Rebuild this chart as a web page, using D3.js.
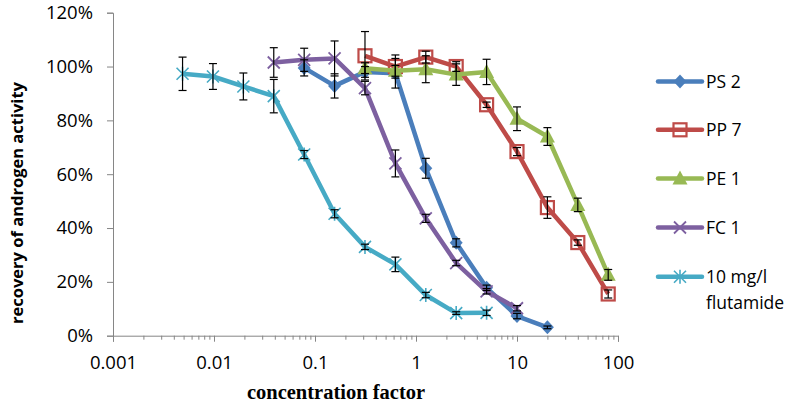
<!DOCTYPE html>
<html><head><meta charset="utf-8">
<script src="https://cdn.jsdelivr.net/npm/d3@7"></script>
<style>body{margin:0;background:#fff}svg{display:block}</style>
</head><body><svg id="c" width="792" height="405"></svg>
<script>
// concentration factors (dilution series)
const concFlut = [0.0048828, 0.0097656, 0.0195313, 0.0390625, 0.078125, 0.15625, 0.3125, 0.625, 1.25, 2.5, 5];
const concFC1  = [0.0390625, 0.078125, 0.15625, 0.3125, 0.625, 1.25, 2.5, 5, 10];
const concPS2  = [0.078125, 0.15625, 0.3125, 0.625, 1.25, 2.5, 5, 10, 20];
const concPP7  = [0.3125, 0.625, 1.25, 2.5, 5, 10, 20, 40, 80];
const concPE1  = [0.3125, 0.625, 1.25, 2.5, 5, 10, 20, 40, 80];

// recovery (%) and error (±%)
const valPS2  = [99.5, 92.8, 98.0, 97.5, 62.2, 34.5, 17.8, 7.3, 3.1];
const errPS2  = [3, 4.5, 2, 5.5, 3.7, 1.5, 1, 1, 0.5];
const valPP7  = [104.0, 100.0, 103.5, 100.0, 85.8, 68.4, 47.6, 34.6, 15.5];
const errPP7  = [9, 4.3, 2.2, 1.8, 1, 1.5, 4, 1, 1.5];
const valPE1  = [99.4, 98.4, 99.0, 97.0, 98.0, 80.6, 74.0, 48.6, 22.6];
const errPE1  = [2, 2, 5, 4, 4.7, 4.4, 3.3, 2.5, 2];
const valFC1  = [101.5, 102.5, 103.0, 92.0, 64.0, 43.6, 27.0, 16.5, 10.2];
const errFC1  = [5.5, 4.3, 6.5, 2.5, 5, 1.5, 1, 1, 1];
const valFlut = [97.3, 96.3, 92.6, 89.0, 67.3, 45.3, 33.0, 26.5, 15.1, 8.4, 8.5];
const errFlut = [6.2, 4.8, 5, 6.2, 1.5, 1.5, 1, 2.7, 1, 0.5, 1];

const seriesNames = ["PS 2", "PP 7", "PE 1", "FC 1", "10 mg/l flutamide"];
const xTicks = [0.001, 0.01, 0.1, 1, 10, 100];
const yTicks = [0, 20, 40, 60, 80, 100, 120];

const series = [
  {name: seriesNames[0], x: concPS2, y: valPS2, e: errPS2, color: "#4A7EBB", marker: "diamond"},
  {name: seriesNames[1], x: concPP7, y: valPP7, e: errPP7, color: "#BE4B48", marker: "square"},
  {name: seriesNames[2], x: concPE1, y: valPE1, e: errPE1, color: "#98B954", marker: "triangle"},
  {name: seriesNames[3], x: concFC1, y: valFC1, e: errFC1, color: "#7D60A0", marker: "x"},
  {name: seriesNames[4], x: concFlut, y: valFlut, e: errFlut, color: "#46AAC5", marker: "star"}
];

const svg = d3.select("#c");
const L = 113, R = 618, T = 12.7, B = 335.7;
const x = d3.scaleLog().domain([0.001, 100]).range([L, R]);
const y = d3.scaleLinear().domain([0, 120]).range([B, T]);
const axisColor = "#868686";
const font = "'Open Sans', 'Noto Sans', sans-serif";

// y axis
const gy = svg.append("g").attr("transform", `translate(${L},0)`)
  .call(d3.axisLeft(y).tickValues(yTicks).tickSize(6).tickFormat(d => d + "%"));
gy.select(".domain").attr("stroke", axisColor);
gy.selectAll(".tick line").attr("stroke", axisColor);
gy.selectAll(".tick text").attr("font-family", font).attr("font-size", 18.5).attr("fill", "#000").attr("x", -20);

// x axis
const minor = [];
for (let p = -3; p < 2; p++) for (let k = 2; k <= 9; k++) minor.push(k * Math.pow(10, p));
const gxm = svg.append("g").attr("transform", `translate(0,${B})`)
  .call(d3.axisBottom(x).tickValues(minor).tickSize(4).tickFormat(""));
gxm.select(".domain").remove();
gxm.selectAll(".tick line").attr("stroke", axisColor);
const gx = svg.append("g").attr("transform", `translate(0,${B})`)
  .call(d3.axisBottom(x).tickValues(xTicks).tickSize(6).tickFormat(d => String(d)));
gx.select(".domain").attr("stroke", axisColor);
gx.selectAll(".tick line").attr("stroke", axisColor);
gx.selectAll(".tick text").attr("font-family", font).attr("font-size", 18.5).attr("fill", "#000").attr("y", 20);

// axis titles
svg.append("text").attr("transform", "translate(23,203) rotate(-90)")
  .attr("text-anchor", "middle").attr("font-family", font).attr("font-weight", "bold")
  .attr("font-size", 16.5).text("recovery of androgen activity");
svg.append("text").attr("x", 336).attr("y", 399).attr("text-anchor", "middle")
  .attr("font-family", "'Liberation Serif', 'Times New Roman', serif").attr("font-weight", "bold")
  .attr("font-size", 20.5).text("concentration factor");

function drawMarker(g, type, cx, cy, color) {
  if (type === "diamond") {
    g.append("path").attr("d", `M${cx},${cy-7}L${cx+6.5},${cy}L${cx},${cy+7}L${cx-6.5},${cy}Z`).attr("fill", color);
  } else if (type === "square") {
    g.append("rect").attr("x", cx-6.5).attr("y", cy-6.5).attr("width", 13).attr("height", 13)
      .attr("fill", "none").attr("stroke", color).attr("stroke-width", 2.2);
  } else if (type === "triangle") {
    g.append("path").attr("d", `M${cx},${cy-8}L${cx+7.5},${cy+6}L${cx-7.5},${cy+6}Z`).attr("fill", color);
  } else if (type === "x") {
    g.append("path").attr("d", `M${cx-6},${cy-6}L${cx+6},${cy+6}M${cx-6},${cy+6}L${cx+6},${cy-6}`)
      .attr("stroke", color).attr("stroke-width", 1.8);
  } else if (type === "star") {
    g.append("path").attr("d", `M${cx-6},${cy-6}L${cx+6},${cy+6}M${cx-6},${cy+6}L${cx+6},${cy-6}M${cx},${cy-7}L${cx},${cy+7}`)
      .attr("stroke", color).attr("stroke-width", 1.6);
  }
}

const line = d3.line().x(d => x(d[0])).y(d => y(d[1]));
series.forEach(s => {
  const pts = s.x.map((v, i) => [v, s.y[i], s.e[i]]);
  const g = svg.append("g");
  g.append("path").datum(pts).attr("d", line).attr("fill", "none")
    .attr("stroke", s.color).attr("stroke-width", 4.5).attr("stroke-linejoin", "round");
  pts.forEach(p => drawMarker(g, s.marker, x(p[0]), y(p[1]), s.color));
});
// error bars
series.forEach(s => {
  const g = svg.append("g").attr("stroke", "#000").attr("stroke-width", 1.2);
  s.x.forEach((v, i) => {
    const cx = x(v), y1 = y(s.y[i] + s.e[i]), y2 = y(s.y[i] - s.e[i]);
    g.append("line").attr("x1", cx).attr("x2", cx).attr("y1", y1).attr("y2", y2);
    g.append("line").attr("x1", cx-4).attr("x2", cx+4).attr("y1", y1).attr("y2", y1);
    g.append("line").attr("x1", cx-4).attr("x2", cx+4).attr("y1", y2).attr("y2", y2);
  });
});

// legend
const legY = [81.5, 129.8, 178.5, 227.5, 276.7];
series.forEach((s, i) => {
  const g = svg.append("g");
  const ly = legY[i];
  g.append("line").attr("x1", 658).attr("x2", 702).attr("y1", ly).attr("y2", ly)
    .attr("stroke", s.color).attr("stroke-width", 4.5).attr("stroke-linecap", "round");
  drawMarker(g, s.marker, 680, ly, s.color);
  const t = g.append("text").attr("x", 706).attr("y", ly + 6).attr("font-family", font).attr("font-size", 17.5);
  if (s.name === "10 mg/l flutamide") {
    t.append("tspan").attr("x", 706).text("10 mg/l");
    t.append("tspan").attr("x", 706).attr("dy", 26).text("flutamide");
  } else t.text(s.name);
});
</script></body></html>
